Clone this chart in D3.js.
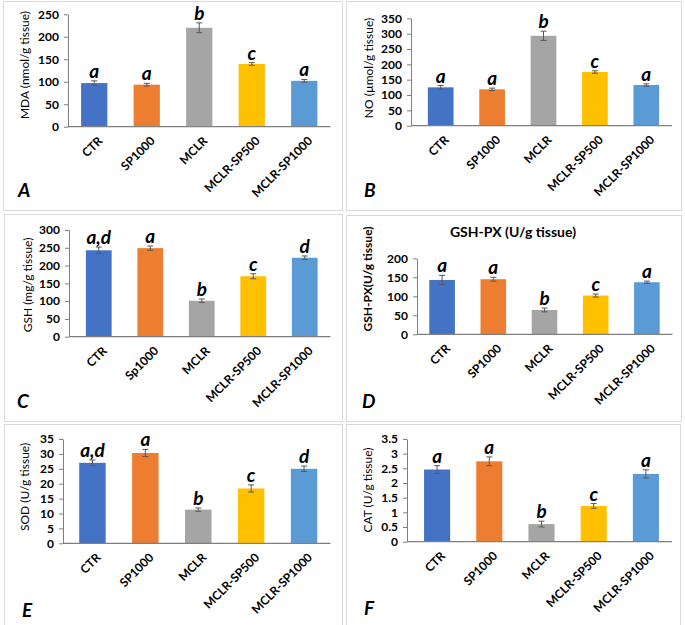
<!DOCTYPE html>
<html>
<head>
<meta charset="utf-8">
<script src="https://cdn.jsdelivr.net/npm/d3@7"></script>
<style>
  html, body { margin: 0; padding: 0; background: #fff; }
  svg { display: block; font-family: Lato, "Open Sans", sans-serif; }
</style>
</head>
<body>
<svg id="chart" width="685" height="625"></svg>
<script>
// ---- Data ----
const categories = ["CTR", "SP1000", "MCLR", "MCLR-SP500", "MCLR-SP1000"];
const categoriesC = ["CTR", "Sp1000", "MCLR", "MCLR-SP500", "MCLR-SP1000"];
const barColors = ["#4472C4", "#ED7D31", "#A5A5A5", "#FFC000", "#5B9BD5"];

const mdaValues = [97, 93.5, 220, 139.5, 102];
const mdaErrors = [5, 3, 11, 3, 3];
const mdaLetters = ["a", "a", "b", "c", "a"];
const mdaTicks = [0, 50, 100, 150, 200, 250];

const noValues = [125, 118.5, 293, 175, 132.5];
const noErrors = [6, 4, 15, 4, 4];
const noLetters = ["a", "a", "b", "c", "a"];
const noTicks = [0, 50, 100, 150, 200, 250, 300, 350];

const gshValues = [243, 249, 101, 170, 222];
const gshErrors = [9, 6, 5, 7, 5];
const gshLetters = ["a,d", "a", "b", "c", "d"];
const gshTicks = [0, 50, 100, 150, 200, 250, 300];

const gshpxValues = [143, 145, 64, 102, 137];
const gshpxErrors = [12, 5, 5, 4, 3];
const gshpxLetters = ["a", "a", "b", "c", "a"];
const gshpxTicks = [0, 50, 100, 150, 200];

const sodValues = [27, 30.3, 11.3, 18.4, 25];
const sodErrors = [0.95, 1.2, 0.55, 1.2, 0.9];
const sodLetters = ["a,d", "a", "b", "c", "d"];
const sodTicks = [0, 5, 10, 15, 20, 25, 30, 35];

const catValues = [2.46, 2.74, 0.6, 1.22, 2.31];
const catErrors = [0.13, 0.15, 0.1, 0.08, 0.14];
const catLetters = ["a", "a", "b", "c", "a"];
const catTicks = [0, 0.5, 1, 1.5, 2, 2.5, 3, 3.5];

// ---- Layout per panel ----
const panels = [
  { tag: "A", cats: categories, values: mdaValues, errors: mdaErrors, letters: mdaLetters, ticks: mdaTicks,
    ytitle: "MDA (nmol/g tissue)", ytitleBold: false,
    box: [3, 1, 342, 210], axisX: 68, band: [68, 330.5], y0: 126.7, y1: 14.3,
    ytx: 25, yty: 65, tagX: 18, tagY: 197 },
  { tag: "B", cats: categories, values: noValues, errors: noErrors, letters: noLetters, ticks: noTicks,
    ytitle: "NO (\u00b5mol/g tissue)", ytitleBold: false,
    box: [346, 1, 681, 210], axisX: 411, band: [415, 672], y0: 125.7, y1: 18.3,
    ytx: 369, yty: 68, tagX: 364, tagY: 197 },
  { tag: "C", cats: categoriesC, values: gshValues, errors: gshErrors, letters: gshLetters, ticks: gshTicks,
    ytitle: "GSH (mg/g tissue)", ytitleBold: false,
    box: [4, 214, 342, 421], axisX: 69, band: [73, 330.5], y0: 336.7, y1: 230,
    ytx: 28, yty: 285, tagX: 17, tagY: 408 },
  { tag: "D", cats: categories, values: gshpxValues, errors: gshpxErrors, letters: gshpxLetters, ticks: gshpxTicks,
    ytitle: "GSH-PX(U/g tissue)", ytitleBold: true, title: "GSH-PX (U/g tissue)", titleX: 513, titleY: 237,
    box: [346, 215, 681, 421], axisX: 417, band: [416.5, 672.5], y0: 334.3, y1: 258.3,
    ytx: 368, yty: 279, tagX: 362, tagY: 408 },
  { tag: "E", cats: categories, values: sodValues, errors: sodErrors, letters: sodLetters, ticks: sodTicks,
    ytitle: "SOD (U/g tissue)", ytitleBold: false,
    box: [4, 424, 342, 640], axisX: 63, band: [66, 330.5], y0: 543.3, y1: 439,
    ytx: 25, yty: 487, tagX: 22, tagY: 617 },
  { tag: "F", cats: categories, values: catValues, errors: catErrors, letters: catLetters, ticks: catTicks,
    ytitle: "CAT (U/g tissue)", ytitleBold: false,
    box: [346, 424, 680, 640], axisX: 407, band: [411, 672], y0: 541.7, y1: 439,
    ytx: 368, yty: 490, tagX: 364, tagY: 615 }
];

const svg = d3.select("#chart");

panels.forEach(p => {
  const g = svg.append("g");
  const [bx0, by0, bx1, by1] = p.box;
  g.append("rect")
    .attr("x", bx0 + 0.5).attr("y", by0 + 0.5)
    .attr("width", bx1 - bx0).attr("height", by1 - by0)
    .attr("fill", "#fff").attr("stroke", "#d9d9d9").attr("stroke-width", 1);

  const x = d3.scaleBand().domain(p.cats).range(p.band).paddingInner(0.5).paddingOuter(0.25);
  const yMax = p.ticks[p.ticks.length - 1];
  const y = d3.scaleLinear().domain([0, yMax]).range([p.y0, p.y1]);

  // y axis
  const yAxis = d3.axisLeft(y).tickValues(p.ticks).tickSize(4).tickSizeOuter(0).tickPadding(5)
    .tickFormat(d3.format("~g"));
  const ya = g.append("g").attr("transform", `translate(${p.axisX},0)`).call(yAxis);
  ya.select(".domain").attr("stroke", "#7f7f7f").attr("stroke-width", 1);
  ya.selectAll(".tick line").attr("stroke", "#7f7f7f");
  ya.selectAll(".tick text").attr("fill", "#000").attr("font-size", 12).attr("font-weight", "bold")
    .attr("font-family", "Lato, sans-serif");

  // bars
  g.selectAll("rect.bar").data(p.values).enter().append("rect")
    .attr("class", "bar")
    .attr("x", (d, i) => x(p.cats[i]))
    .attr("width", x.bandwidth())
    .attr("y", d => y(d))
    .attr("height", d => y(0) - y(d))
    .attr("fill", (d, i) => barColors[i]);

  // x axis line
  g.append("line")
    .attr("x1", p.axisX).attr("x2", p.band[1])
    .attr("y1", y(0)).attr("y2", y(0))
    .attr("stroke", "#7f7f7f").attr("stroke-width", 1.3);

  // error bars
  p.values.forEach((v, i) => {
    const cx = x(p.cats[i]) + x.bandwidth() / 2;
    const e = p.errors[i];
    const eg = g.append("g").attr("stroke", "#595959").attr("stroke-width", 1);
    eg.append("line").attr("x1", cx).attr("x2", cx).attr("y1", y(v - e)).attr("y2", y(v + e));
    eg.append("line").attr("x1", cx - 3).attr("x2", cx + 3).attr("y1", y(v - e)).attr("y2", y(v - e));
    eg.append("line").attr("x1", cx - 3).attr("x2", cx + 3).attr("y1", y(v + e)).attr("y2", y(v + e));
    // significance letters
    g.append("text")
      .attr("x", cx).attr("y", y(v + e) - 3)
      .attr("text-anchor", "middle")
      .attr("font-size", 19).attr("font-weight", "bold").attr("font-style", "italic")
      .attr("fill", "#000")
      .text(p.letters[i]);
  });

  // x category labels, rotated
  p.cats.forEach(c => {
    const cx = x(c) + x.bandwidth() / 2;
    g.append("text")
      .attr("transform", `translate(${cx + 6},${y(0) + 12}) rotate(-45)`)
      .attr("text-anchor", "end")
      .attr("dy", "0.35em")
      .attr("font-size", 12).attr("font-weight", "bold").attr("fill", "#000")
      .text(c);
  });

  // y title
  g.append("text")
    .attr("transform", `translate(${p.ytx},${p.yty}) rotate(-90)`)
    .attr("text-anchor", "middle").attr("dy", "0.35em")
    .attr("font-size", 12).attr("font-weight", p.ytitleBold ? "bold" : "normal").attr("fill", "#000")
    .text(p.ytitle);

  if (p.title) {
    g.append("text")
      .attr("x", p.titleX).attr("y", p.titleY)
      .attr("text-anchor", "middle")
      .attr("font-size", 14).attr("font-weight", "bold").attr("fill", "#000")
      .text(p.title);
  }

  // panel tag
  g.append("text")
    .attr("x", p.tagX).attr("y", p.tagY)
    .attr("font-size", 19).attr("font-weight", "bold").attr("font-style", "italic").attr("fill", "#000")
    .text(p.tag);
});
</script>
</body>
</html>
